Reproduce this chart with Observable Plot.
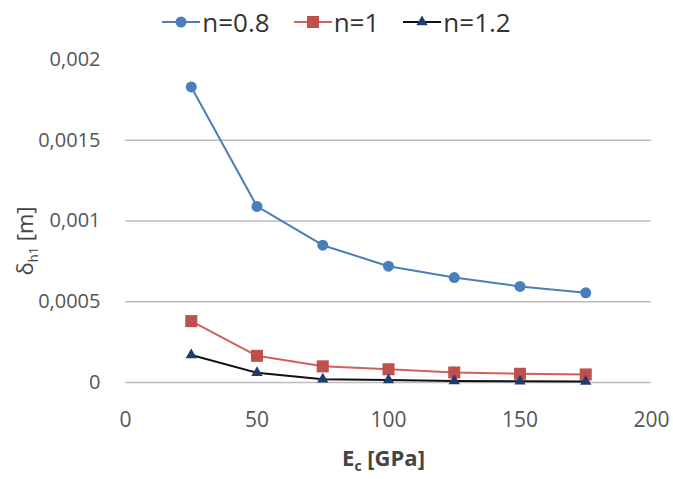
<!DOCTYPE html>
<html>
<head>
<meta charset="utf-8">
<script src="https://cdn.jsdelivr.net/npm/d3@7"></script>
<script src="https://cdn.jsdelivr.net/npm/@observablehq/plot@0.6"></script>
<style>
  html, body { margin: 0; padding: 0; background: #fff; }
  body { width: 673px; height: 479px; overflow: hidden; font-family: "Open Sans", "Liberation Sans", sans-serif; }
  #legend { height: 44px; display: flex; justify-content: center; align-items: center; gap: 24px; font-size: 26px; color: #333; }
  #legend .item { display: flex; align-items: center; }
  #legend svg { margin-right: 2px; }
</style>
</head>
<body>
<div id="legend"></div>
<div id="chart"></div>
<script>
const modulus = [25, 50, 75, 100, 125, 150, 175];
const seriesNames = ["n=0.8", "n=1", "n=1.2"];
const n08 = [0.00183, 0.00109, 0.00085, 0.00072, 0.00065, 0.000595, 0.000555];
const n10 = [0.00038, 0.000165, 0.0001, 0.000082, 0.000062, 0.000054, 0.00005];
const n12 = [0.00017, 0.00006, 0.00002, 0.000015, 0.00001, 0.000008, 0.000006];
const xTicks = [0, 50, 100, 150, 200];
const yTicks = [0, 0.0005, 0.001, 0.0015, 0.002];
const gridTicks = [0, 0.0005, 0.001, 0.0015];

const styles = {
  "n=0.8": {line: "#4a7ebb", fill: "#4a7ebb", symbol: "circle", r: 5.5},
  "n=1":   {line: "#d0605a", fill: "#c0504d", symbol: "square", r: 6.8},
  "n=1.2": {line: "#111111", fill: "#1f3b70", symbol: "triangle", r: 4.2}
};

const data = [];
[n08, n10, n12].forEach((arr, i) => {
  arr.forEach((v, j) => data.push({E: modulus[j], d: v, s: seriesNames[i]}));
});

const fmt = d => String(d).replace(".", ",");

const marks = [
  Plot.gridY(gridTicks, {stroke: "#bdbdbd", strokeOpacity: 1, strokeWidth: 1.5}),
  Plot.axisX(xTicks, {tickSize: 0, tickPadding: 30, fontSize: 21, fill: "#555", label: null}),
  Plot.axisY(yTicks, {tickSize: 0, tickPadding: 25, fontSize: 20, fill: "#555", label: null, tickFormat: fmt})
];
seriesNames.forEach(name => {
  const st = styles[name];
  const sub = data.filter(d => d.s === name);
  marks.push(Plot.line(sub, {x: "E", y: "d", stroke: st.line, strokeWidth: 2}));
  marks.push(Plot.dot(sub, {x: "E", y: "d", symbol: () => st.symbol, fill: st.fill, r: st.r, stroke: "none"}));
});
marks.push(Plot.text(["Ec"], {frameAnchor: "bottom", textAnchor: "middle", dx: -5, dy: 83, fontSize: 22, fontWeight: "bold", fill: "#444", className: "xlab"}));
marks.push(Plot.text(["dh1"], {frameAnchor: "left", textAnchor: "middle", dx: -100, dy: 20, rotate: -90, fontSize: 22, fill: "#444", className: "ylab"}));

const chart = Plot.plot({
  width: 673,
  height: 435,
  marginLeft: 125,
  marginRight: 22,
  marginTop: 15,
  marginBottom: 97,
  style: {fontFamily: "'Open Sans', 'Liberation Sans', sans-serif", background: "#fff"},
  x: {domain: [0, 200]},
  y: {domain: [0, 0.002]},
  marks
});
document.getElementById("chart").appendChild(chart);

// Rich text for axis labels (subscripts)
const xl = d3.select(chart).select(".xlab text");
xl.text(null);
xl.append("tspan").text("E");
xl.append("tspan").attr("font-size", 14).attr("dy", 5).text("c");
xl.append("tspan").attr("dy", -5).text(" [GPa]");

const yl = d3.select(chart).select(".ylab text");
yl.text(null);
yl.append("tspan").text("δ");
yl.append("tspan").attr("font-size", 13).attr("dy", 5).text("h1");
yl.append("tspan").attr("dy", -5).text(" [m]");

// Legend
const legend = d3.select("#legend");
seriesNames.forEach(name => {
  const st = styles[name];
  const item = legend.append("div").attr("class", "item");
  const svg = item.append("svg").attr("width", 38).attr("height", 20);
  svg.append("line").attr("x1", 0).attr("x2", 38).attr("y1", 10).attr("y2", 10).attr("stroke", st.line).attr("stroke-width", 2);
  const sym = {circle: d3.symbolCircle, square: d3.symbolSquare, triangle: d3.symbolTriangle}[st.symbol];
  svg.append("path").attr("transform", "translate(19,10)").attr("d", d3.symbol(sym, Math.PI * st.r * st.r)()).attr("fill", st.fill);
  item.append("span").text(name);
});
</script>
</body>
</html>
